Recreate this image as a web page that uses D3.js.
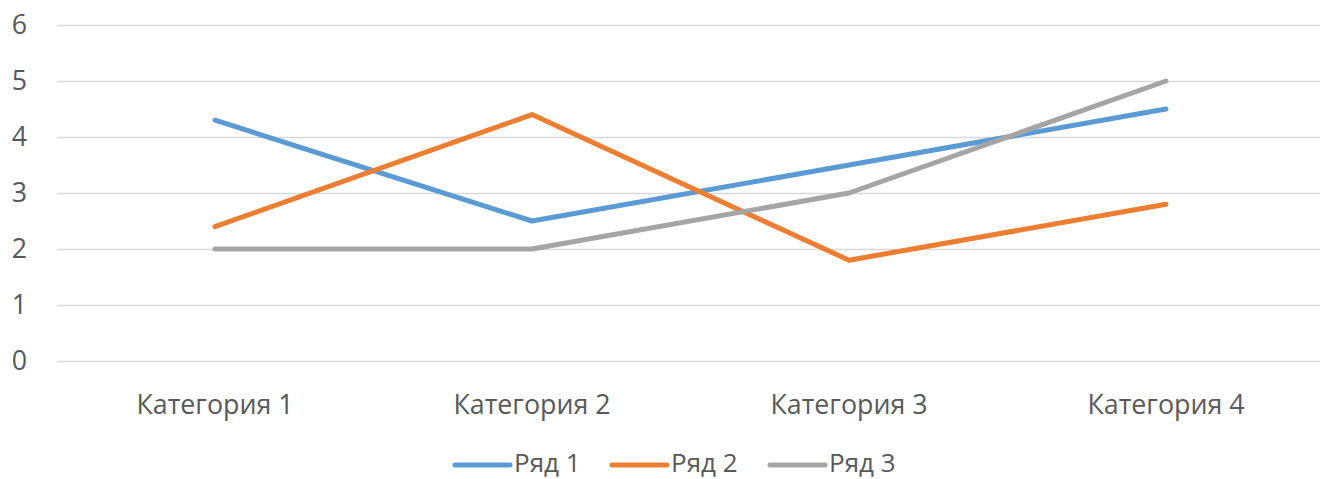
<!DOCTYPE html>
<html><head><meta charset="utf-8">
<script src="https://cdn.jsdelivr.net/npm/d3@7"></script>
<style>body{margin:0;background:#fff}svg{display:block}text{font-family:"Open Sans","Noto Sans",sans-serif;fill:#595959}</style>
</head><body><svg id="c" width="1320" height="479"></svg>
<script>
const categories = ["Категория 1","Категория 2","Категория 3","Категория 4"];
const seriesNames = ["Ряд 1","Ряд 2","Ряд 3"];
const series1 = [4.3, 2.5, 3.5, 4.5];
const series2 = [2.4, 4.4, 1.8, 2.8];
const series3 = [2, 2, 3, 5];
const yTicks = [0,1,2,3,4,5,6];
const colors = ["#5B9BD5","#ED7D31","#A5A5A5"];
const allSeries = [series1, series2, series3];

const FS = 26.8;
const svg = d3.select("#c");
const x = d3.scaleBand().domain(categories).range([56.5, 1324.5]);
const y = d3.scaleLinear().domain([0,6]).range([361, 25]);

const grid = svg.append("g");
grid.selectAll("line").data(yTicks).join("line")
  .attr("x1", 57).attr("x2", 1320)
  .attr("y1", d => Math.round(y(d))+0.5).attr("y2", d => Math.round(y(d))+0.5)
  .attr("stroke", "#d9d9d9").attr("stroke-width", 1.3);

const yAxis = d3.axisLeft(y).tickValues(yTicks).tickSize(0).tickPadding(0).tickFormat(d3.format("d"));
const ya = svg.append("g").attr("transform","translate(27,0)").call(yAxis);
ya.select(".domain").remove();
ya.selectAll("text").attr("font-size", FS).attr("fill","#595959").style("font-family", null);

const xAxis = d3.axisBottom(x).tickSize(0).tickPadding(0);
const xa = svg.append("g").call(xAxis);
xa.select(".domain").remove();
xa.selectAll("text").attr("font-size", FS).attr("fill","#595959").style("font-family", null)
  .attr("y", 414).attr("dy", null);

const line = d3.line().x((d,i) => x(categories[i]) + x.bandwidth()/2).y(d => y(d));
svg.append("g").selectAll("path").data(allSeries).join("path")
  .attr("d", d => line(d)).attr("fill","none")
  .attr("stroke", (d,i) => colors[i]).attr("stroke-width", 5)
  .attr("stroke-linecap","round").attr("stroke-linejoin","round");

const legX = [455, 612, 770];
const leg = svg.append("g");
seriesNames.forEach((n,i) => {
  leg.append("line").attr("x1", legX[i]).attr("x2", legX[i]+55).attr("y1",465).attr("y2",465)
    .attr("stroke", colors[i]).attr("stroke-width",5).attr("stroke-linecap","round");
  leg.append("text").attr("x", legX[i]+59).attr("y", 472)
    .attr("font-size",FS - 0.8).text(n);
});
</script></body></html>
